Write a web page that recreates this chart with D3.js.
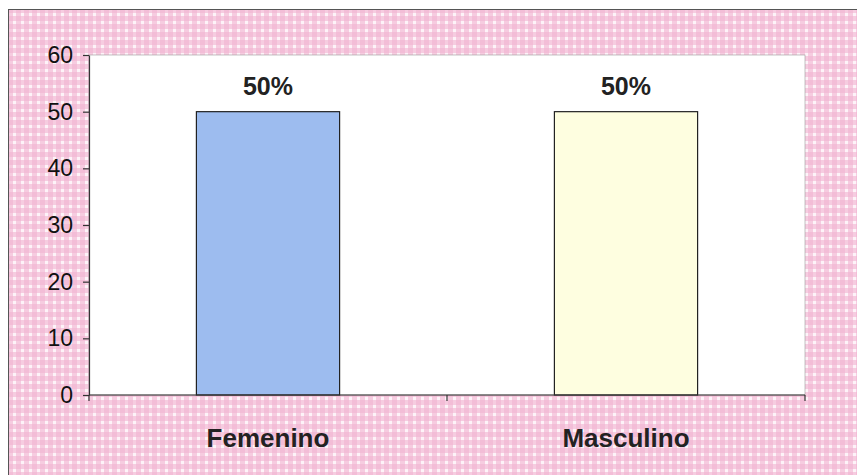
<!DOCTYPE html>
<html>
<head>
<meta charset="utf-8">
<script src="https://cdn.jsdelivr.net/npm/d3@7"></script>
<style>
  html, body { margin: 0; padding: 0; background: #ffffff; }
  svg { display: block; }
</style>
</head>
<body>
<svg id="chart" width="857" height="475"></svg>
<script>
// Gender distribution, percentage of respondents
const categories = ["Femenino", "Masculino"];
const values = [50, 50];
const valueLabels = ["50%", "50%"];
const barColors = ["#9dbcef", "#fefee0"];
const yTicks = [0, 10, 20, 30, 40, 50, 60];

const svg = d3.select("#chart");
const W = 857, H = 475;
const plot = { left: 89, right: 805, top: 55, bottom: 395 };
const font = "Liberation Sans, Arial, sans-serif";

// Gingham background pattern
const defs = svg.append("defs");
const pat = defs.append("pattern")
  .attr("id", "gingham")
  .attr("patternUnits", "userSpaceOnUse")
  .attr("width", 8).attr("height", 8);
pat.append("rect").attr("width", 8).attr("height", 8).attr("fill", "#fdf3f8");
pat.append("rect").attr("x", 0).attr("y", 0).attr("width", 5).attr("height", 8)
  .attr("fill", "#f2b3d0").attr("opacity", 0.6);
pat.append("rect").attr("x", 0).attr("y", 0).attr("width", 8).attr("height", 5)
  .attr("fill", "#f2b3d0").attr("opacity", 0.6);

// Outer frame
svg.append("rect")
  .attr("x", 8.5).attr("y", 9.5)
  .attr("width", W - 8).attr("height", H - 9)
  .attr("fill", "url(#gingham)")
  .attr("stroke", "#555").attr("stroke-width", 1);

// Plot area
svg.append("rect")
  .attr("x", plot.left).attr("y", plot.top)
  .attr("width", plot.right - plot.left).attr("height", plot.bottom - plot.top)
  .attr("fill", "#ffffff")
  .attr("stroke", "#9a9a9a").attr("stroke-width", 0.6);

const x = d3.scaleBand()
  .domain(categories)
  .range([plot.left, plot.right])
  .paddingInner(0.6)
  .paddingOuter(0.3);

const y = d3.scaleLinear()
  .domain([0, 60])
  .range([plot.bottom, plot.top]);

// Bars
svg.append("g").selectAll("rect")
  .data(categories)
  .join("rect")
  .attr("x", d => x(d))
  .attr("y", (d, i) => y(values[i]))
  .attr("width", x.bandwidth())
  .attr("height", (d, i) => y(0) - y(values[i]))
  .attr("fill", (d, i) => barColors[i])
  .attr("stroke", "#222")
  .attr("stroke-width", 1.2);

// Value labels
svg.append("g").selectAll("text")
  .data(categories)
  .join("text")
  .attr("x", d => x(d) + x.bandwidth() / 2)
  .attr("y", (d, i) => y(values[i]) - 17)
  .attr("text-anchor", "middle")
  .attr("font-family", font)
  .attr("font-weight", "bold")
  .attr("font-size", 25)
  .attr("fill", "#222")
  .text((d, i) => valueLabels[i]);

// Y axis
const yAxis = d3.axisLeft(y).tickValues(yTicks).tickSize(6).tickSizeOuter(0).tickPadding(10);
const gy = svg.append("g")
  .attr("transform", `translate(${plot.left},0)`)
  .call(yAxis);
gy.attr("font-size", null).attr("font-family", null);
gy.select(".domain").attr("stroke", "#333").attr("stroke-width", 1.2);
gy.selectAll(".tick line").attr("stroke", "#333").attr("stroke-width", 1.2);
gy.selectAll(".tick text")
  .attr("font-family", font)
  .attr("font-size", 23)
  .attr("fill", "#111");

// X axis with boundary ticks between categories
const gx = svg.append("g")
  .attr("transform", `translate(0,${plot.bottom})`);
gx.append("line")
  .attr("x1", plot.left).attr("x2", plot.right)
  .attr("y1", 0).attr("y2", 0)
  .attr("stroke", "#333").attr("stroke-width", 1.2);
const bounds = [plot.left, (x(categories[0]) + x.bandwidth() + x(categories[1])) / 2, plot.right];
gx.selectAll("line.tick")
  .data(bounds)
  .join("line")
  .attr("class", "tick")
  .attr("x1", d => d).attr("x2", d => d)
  .attr("y1", 0).attr("y2", 6)
  .attr("stroke", "#333").attr("stroke-width", 1.2);
gx.selectAll("text")
  .data(categories)
  .join("text")
  .attr("x", d => x(d) + x.bandwidth() / 2)
  .attr("y", 52)
  .attr("text-anchor", "middle")
  .attr("font-family", font)
  .attr("font-weight", "bold")
  .attr("font-size", 26)
  .attr("fill", "#222")
  .text(d => d);
</script>
</body>
</html>
